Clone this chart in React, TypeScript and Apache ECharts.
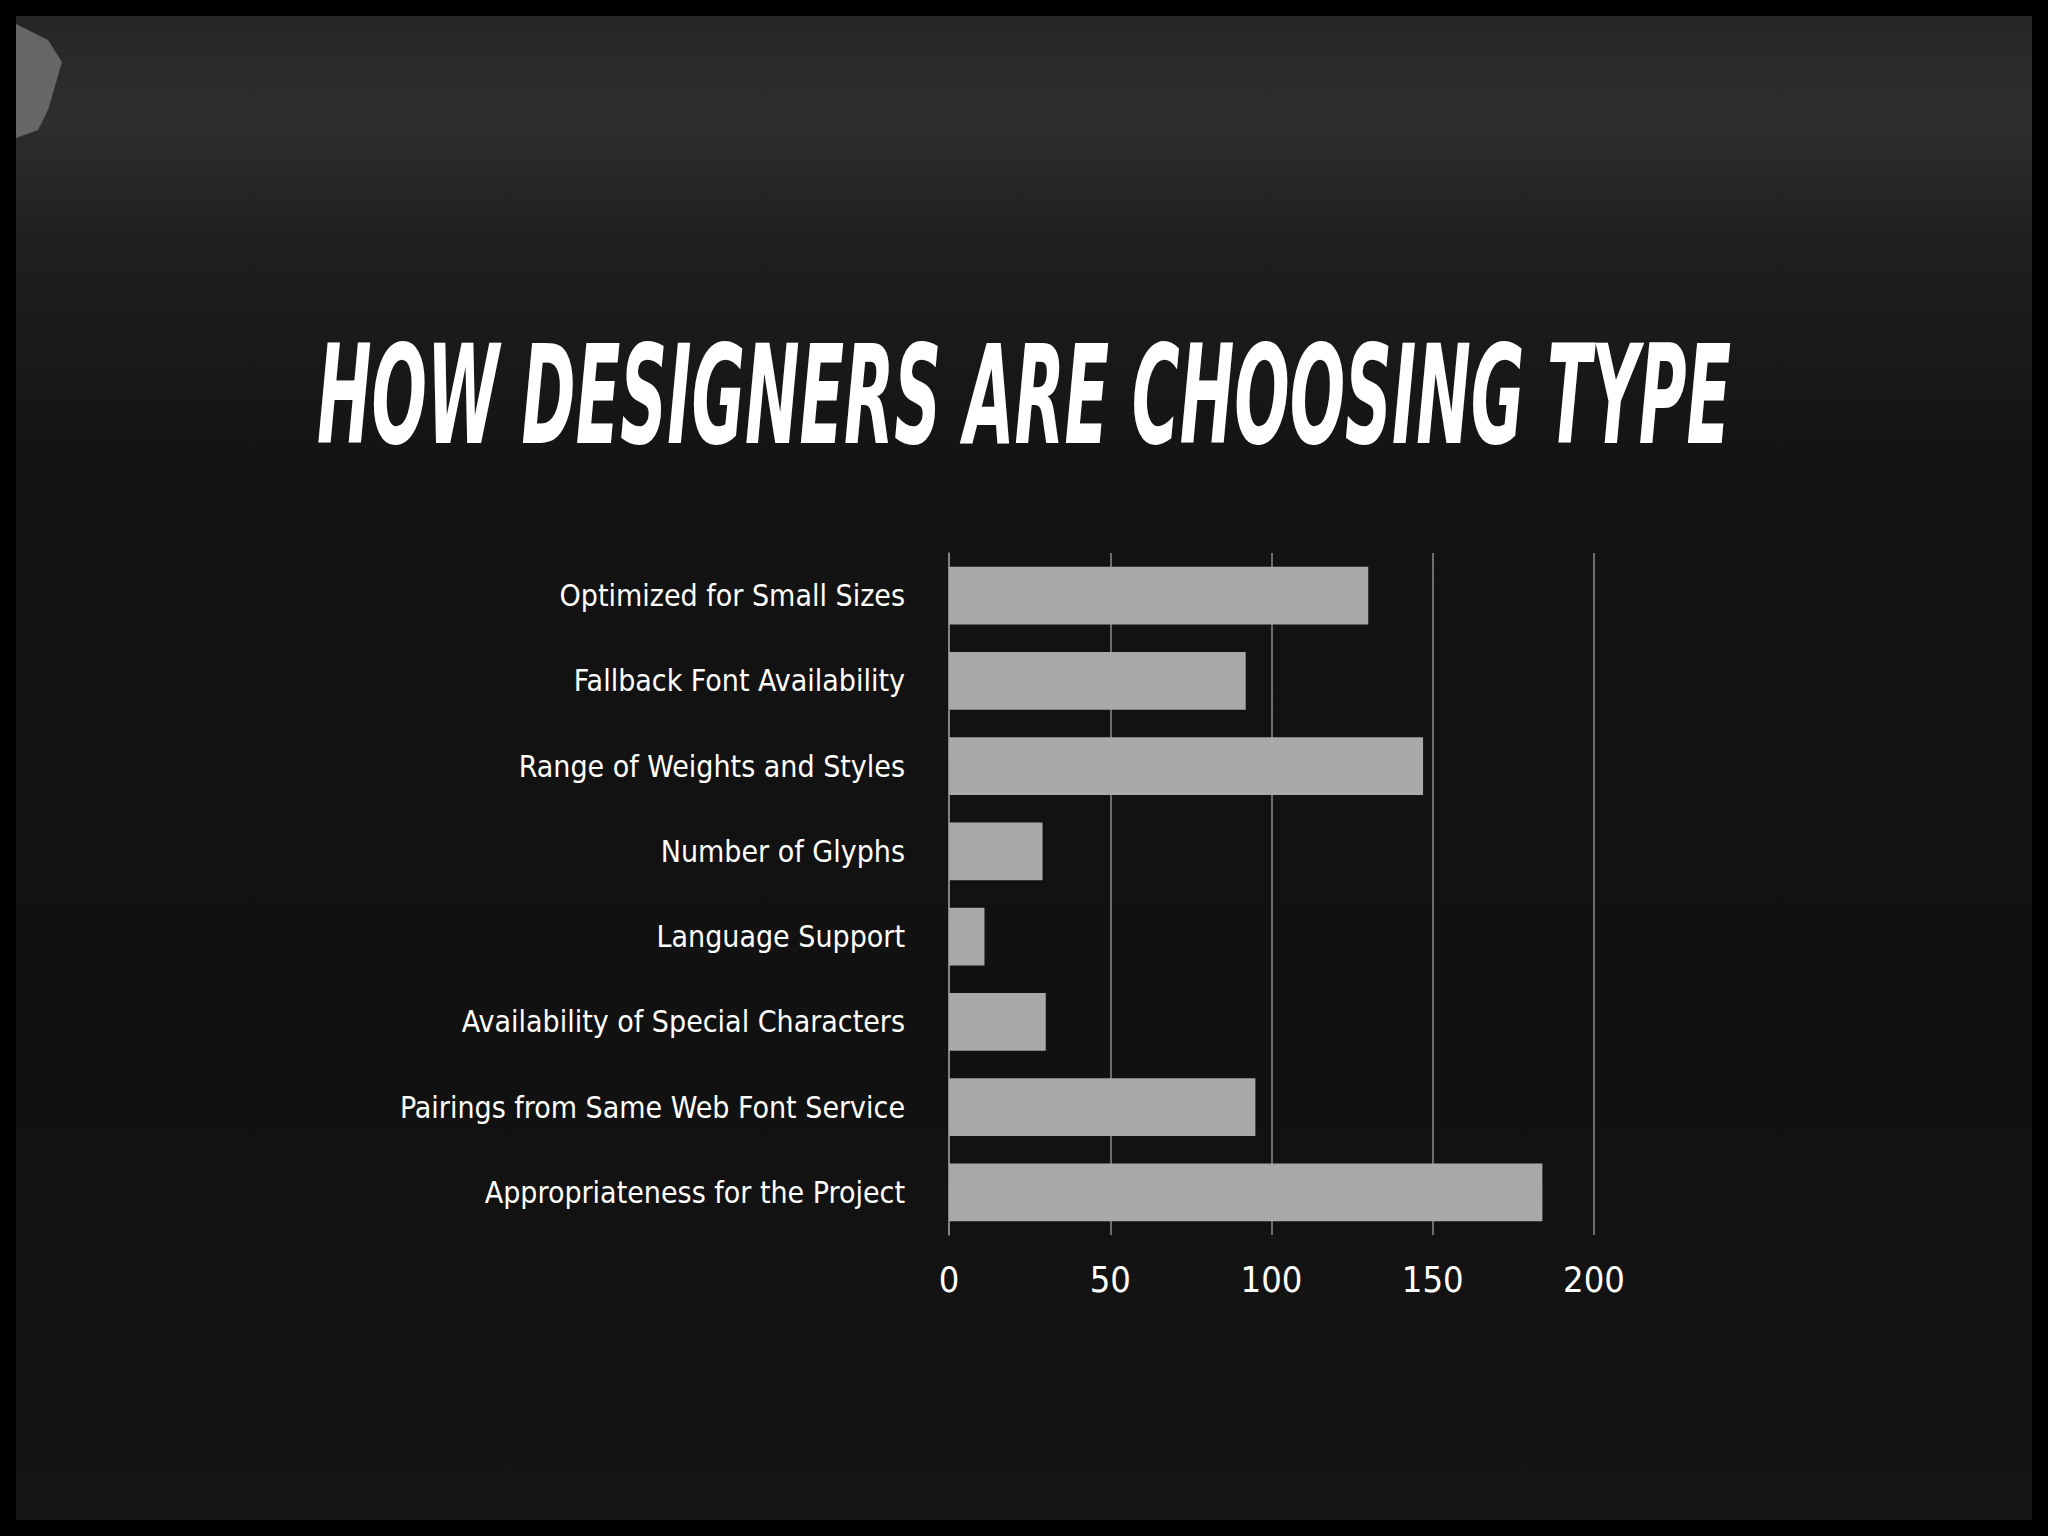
import React, { useEffect, useRef } from "react";
import * as echarts from "echarts";

const titleText = "HOW DESIGNERS ARE CHOOSING TYPE";
const categories = [
  "Optimized for Small Sizes",
  "Fallback Font Availability",
  "Range of Weights and Styles",
  "Number of Glyphs",
  "Language Support",
  "Availability of Special Characters",
  "Pairings from Same Web Font Service",
  "Appropriateness for the Project",
];
const values = [130, 92, 147, 29, 11, 30, 95, 184];
const xTicks = [0, 50, 100, 150, 200];

const FONT = "'Liberation Sans Narrow', 'DejaVu Sans Condensed', 'Liberation Sans', sans-serif";

function measure(text: string, font: string): number {
  const c = document.createElement("canvas");
  const ctx = c.getContext("2d");
  if (!ctx) return 1;
  ctx.font = font;
  return ctx.measureText(text).width || 1;
}

export default function App() {
  const ref = useRef<HTMLDivElement>(null);
  useEffect(() => {
    document.body.style.margin = "0";
    document.body.style.background = "#000";
    if (!ref.current) return;
    const chart = echarts.init(ref.current, undefined, { renderer: "svg" });
    const titleSize = 137;
    const tw = measure(titleText, `italic bold ${titleSize}px ${FONT}`);
    const titleScale = 1415 / tw;

    chart.setOption({
      animation: false,
      backgroundColor: "#000",
      graphic: [
        {
          type: "rect",
          z: -10,
          silent: true,
          shape: { x: 16, y: 16, width: 2016, height: 1504 },
          style: {
            fill: {
              type: "linear",
              x: 0,
              y: 0,
              x2: 0,
              y2: 1,
              colorStops: [
                { offset: 0, color: "#262626" },
                { offset: 0.07, color: "#2e2e2e" },
                { offset: 0.15, color: "#1f1f1f" },
                { offset: 0.3, color: "#131313" },
                { offset: 0.7, color: "#111111" },
                { offset: 1, color: "#151515" },
              ],
            },
          },
        },
        {
          type: "polygon",
          z: -9,
          silent: true,
          shape: { points: [[16, 24], [48, 40], [62, 62], [48, 110], [38, 130], [16, 138]] },
          style: { fill: "#666666" },
        },
        {
          type: "text",
          x: 1024,
          y: 395,
          scaleX: titleScale,
          style: {
            text: titleText,
            fill: "#ffffff",
            fontSize: titleSize,
            fontStyle: "italic",
            fontWeight: "bold",
            fontFamily: FONT,
            align: "center",
            verticalAlign: "middle",
          },
        },
      ],
      grid: { left: 949, right: 454, top: 553, bottom: 301, containLabel: false },
      xAxis: {
        type: "value",
        min: xTicks[0],
        max: xTicks[xTicks.length - 1],
        interval: 50,
        axisLine: { show: false },
        axisTick: { show: false },
        splitLine: { show: true, lineStyle: { color: "#8c8c8c", width: 1.5 } },
        axisLabel: {
          color: "#ffffff",
          fontSize: 36,
          fontFamily: FONT,
          margin: 26,
        },
      },
      yAxis: {
        type: "category",
        inverse: true,
        data: categories,
        axisLine: { show: true, lineStyle: { color: "#8c8c8c", width: 1.5 } },
        axisTick: { show: false },
        axisLabel: {
          color: "#ffffff",
          fontSize: 30,
          fontFamily: FONT,
          margin: 44,
        },
      },
      series: [
        {
          type: "bar",
          data: values,
          barCategoryGap: "32.5%",
          itemStyle: { color: "#a9a9a9" },
        },
      ],
    });
    return () => chart.dispose();
  }, []);
  return <div ref={ref} style={{ width: 2048, height: 1536 }} />;
}
